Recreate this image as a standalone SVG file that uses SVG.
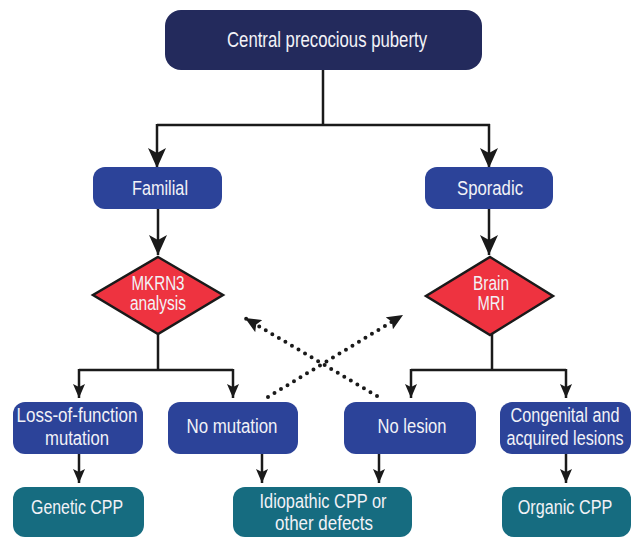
<svg xmlns="http://www.w3.org/2000/svg" width="631" height="537" viewBox="0 0 631 537">
<defs>
<style>
.t{font-family:"Liberation Sans",Arial,sans-serif;font-size:20px;fill:#f2f2f7;text-anchor:middle}
.top{fill:#232a5c}
.blue{fill:#2c4399}
.teal{fill:#166c80}
.dia{fill:#ee3340;stroke:#1a1a1a;stroke-width:2.5}
.ln{fill:none;stroke:#1a1a1a;stroke-width:2.5}
.dot{fill:none;stroke:#1a1a1a;stroke-width:4;stroke-linecap:round;stroke-dasharray:0 7.6}
</style>
<marker id="big" viewBox="0 0 20 18" refX="20" refY="9" markerWidth="20" markerHeight="18" markerUnits="userSpaceOnUse" orient="auto">
<path d="M0,0 L20,9 L0,18 L5,9 Z" fill="#1a1a1a"/>
</marker>
<marker id="sm" viewBox="0 0 14 12" refX="14" refY="6" markerWidth="14" markerHeight="12" markerUnits="userSpaceOnUse" orient="auto">
<path d="M0,0 L14,6 L0,12 L3,6 Z" fill="#1a1a1a"/>
</marker>
<marker id="dt" viewBox="0 0 16 14" refX="16" refY="7" markerWidth="16" markerHeight="14" markerUnits="userSpaceOnUse" orient="auto">
<path d="M0,0 L16,7 L0,14 L3,7 Z" fill="#1a1a1a"/>
</marker>
</defs>
<g id="connectors">
<path class="ln" d="M323,70 V125"/>
<path class="ln" d="M157,125 H490"/>
<path class="ln" d="M157,124 V168" marker-end="url(#big)"/>
<path class="ln" d="M489,124 V168" marker-end="url(#big)"/>
<path class="ln" d="M158,209 V255" marker-end="url(#big)"/>
<path class="ln" d="M489,209 V255" marker-end="url(#big)"/>
<path class="ln" d="M158,334 V370"/>
<path class="ln" d="M79,370 H233"/>
<path class="ln" d="M79,369 V398" marker-end="url(#sm)"/>
<path class="ln" d="M233,369 V398" marker-end="url(#sm)"/>
<path class="ln" d="M492,334 V370"/>
<path class="ln" d="M411,370 H566"/>
<path class="ln" d="M411,369 V398" marker-end="url(#sm)"/>
<path class="ln" d="M566,369 V398" marker-end="url(#sm)"/>
<path class="ln" d="M79,454 V483" marker-end="url(#sm)"/>
<path class="ln" d="M262,454 V483" marker-end="url(#sm)"/>
<path class="ln" d="M379,454 V483" marker-end="url(#sm)"/>
<path class="ln" d="M566,454 V483" marker-end="url(#sm)"/>
<path class="dot" d="M268,397 L403,315" marker-end="url(#dt)"/>
<path class="dot" d="M377,396 L245,318" marker-end="url(#dt)"/>
</g>
<g id="n-cpp">
<rect class="top" x="165" y="10" width="317" height="60" rx="16"/>
<text class="t" x="327" y="47" textLength="200" lengthAdjust="spacingAndGlyphs" style="font-size:22px">Central precocious puberty</text>
</g>
<g id="n-familial">
<rect class="blue" x="93" y="167" width="129" height="42" rx="12"/>
<text class="t" x="160" y="195" textLength="56" lengthAdjust="spacingAndGlyphs">Familial</text>
</g>
<g id="n-sporadic">
<rect class="blue" x="425" y="167" width="128" height="42" rx="12"/>
<text class="t" x="490" y="195" textLength="66" lengthAdjust="spacingAndGlyphs">Sporadic</text>
</g>
<g id="n-mkrn3">
<path class="dia" d="M158,257 L223,295 L158,334 L93,295 Z"/>
<text class="t" x="158" y="290" textLength="53" lengthAdjust="spacingAndGlyphs">MKRN3</text>
<text class="t" x="158" y="310" textLength="56" lengthAdjust="spacingAndGlyphs">analysis</text>
</g>
<g id="n-mri">
<path class="dia" d="M490,257 L553,296 L490,335 L426,296 Z"/>
<text class="t" x="491" y="290" textLength="36" lengthAdjust="spacingAndGlyphs">Brain</text>
<text class="t" x="491" y="310" textLength="27" lengthAdjust="spacingAndGlyphs">MRI</text>
</g>
<g id="n-loss">
<rect class="blue" x="13" y="402" width="130" height="52" rx="12"/>
<text class="t" x="77" y="422" textLength="121" lengthAdjust="spacingAndGlyphs">Loss-of-function</text>
<text class="t" x="77" y="445" textLength="64" lengthAdjust="spacingAndGlyphs">mutation</text>
</g>
<g id="n-nomut">
<rect class="blue" x="168" y="402" width="130" height="52" rx="12"/>
<text class="t" x="232" y="433" textLength="91" lengthAdjust="spacingAndGlyphs">No mutation</text>
</g>
<g id="n-nolesion">
<rect class="blue" x="344" y="402" width="132" height="52" rx="12"/>
<text class="t" x="412" y="433" textLength="69" lengthAdjust="spacingAndGlyphs">No lesion</text>
</g>
<g id="n-congenital">
<rect class="blue" x="500" y="402" width="131" height="52" rx="12"/>
<text class="t" transform="translate(565,422) scale(0.81,1)" x="0" y="0">Congenital and</text>
<text class="t" transform="translate(565,445) scale(0.81,1)" x="0" y="0">acquired lesions</text>
</g>
<g id="n-genetic">
<rect class="teal" x="13" y="487" width="131" height="50" rx="12"/>
<text class="t" x="77" y="514" textLength="92" lengthAdjust="spacingAndGlyphs">Genetic CPP</text>
</g>
<g id="n-idiopathic">
<rect class="teal" x="233" y="487" width="179" height="50" rx="12"/>
<text class="t" x="323" y="508" textLength="127" lengthAdjust="spacingAndGlyphs">Idiopathic CPP or</text>
<text class="t" x="324" y="530" textLength="98" lengthAdjust="spacingAndGlyphs">other defects</text>
</g>
<g id="n-organic">
<rect class="teal" x="502" y="487" width="129" height="50" rx="12"/>
<text class="t" transform="translate(565,514) scale(0.81,1)" x="0" y="0">Organic CPP</text>
</g>
</svg>
